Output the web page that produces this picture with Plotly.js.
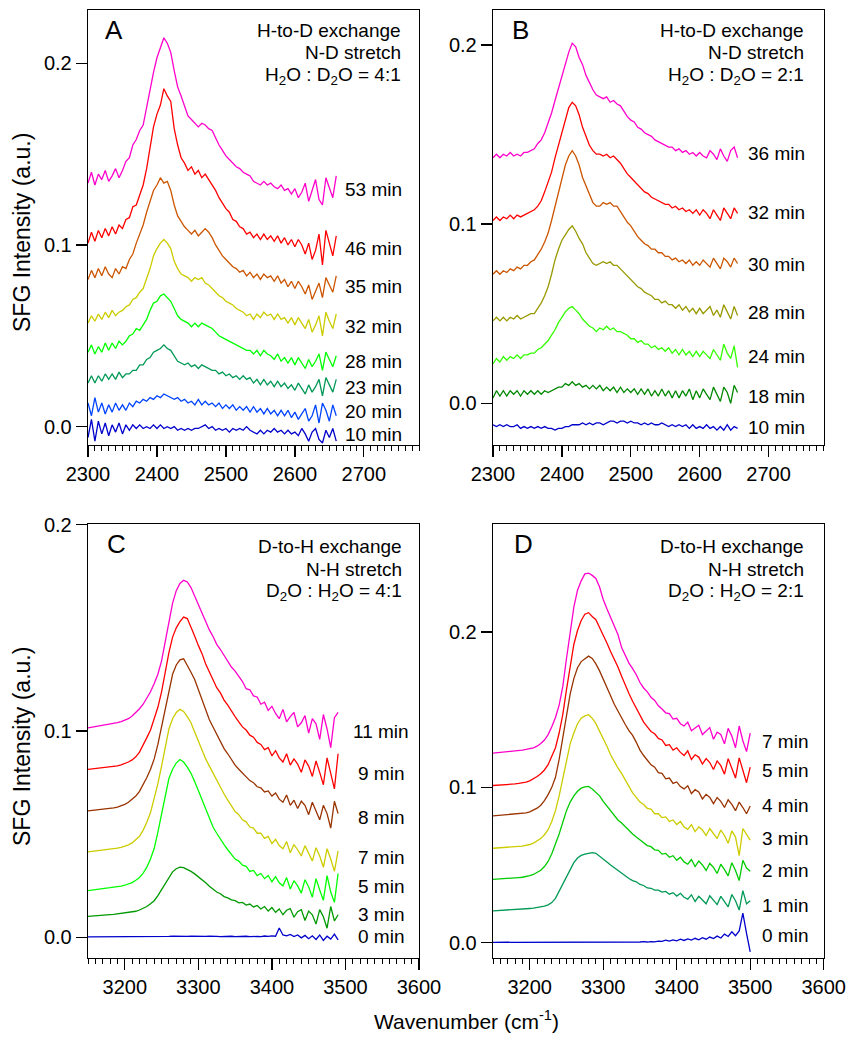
<!DOCTYPE html>
<html><head><meta charset="utf-8">
<script src="https://cdn.plot.ly/plotly-3.0.1.min.js"></script>
<style>html,body{margin:0;padding:0;background:#fff}#chart{width:855px;height:1050px}</style>
</head><body><div id="chart"></div>
<script>
// ---------- wavenumber grids (cm-1) ----------
const wnA = [2300,2305,2310,2315,2320,2325,2330,2335,2340,2345,2350,2355,2360,2365,2370,2375,2380,2385,2390,2395,2400,2405,2410,2415,2420,2425,2430,2435,2440,2445,2450,2455,2460,2465,2470,2475,2480,2485,2490,2495,2500,2505,2510,2515,2520,2525,2530,2535,2540,2545,2550,2555,2560,2565,2570,2575,2580,2585,2590,2595,2600,2605,2610,2615,2620,2625,2630,2635,2640,2645,2650,2655,2660];
const wnB = [2300,2305,2310,2315,2320,2325,2330,2335,2340,2345,2350,2355,2360,2365,2370,2375,2380,2385,2390,2395,2400,2405,2410,2415,2420,2425,2430,2435,2440,2445,2450,2455,2460,2465,2470,2475,2480,2485,2490,2495,2500,2505,2510,2515,2520,2525,2530,2535,2540,2545,2550,2555,2560,2565,2570,2575,2580,2585,2590,2595,2600,2605,2610,2615,2620,2625,2630,2635,2640,2645,2650,2655];
const wnC = [3150,3155,3160,3165,3170,3175,3180,3185,3190,3195,3200,3205,3210,3215,3220,3225,3230,3235,3240,3245,3250,3255,3260,3265,3270,3275,3280,3285,3290,3295,3300,3305,3310,3315,3320,3325,3330,3335,3340,3345,3350,3355,3360,3365,3370,3375,3380,3385,3390,3395,3400,3405,3410,3415,3420,3425,3430,3435,3440,3445,3450,3455,3460,3465,3470,3475,3480,3485,3490];
const wnD = [3150,3155,3160,3165,3170,3175,3180,3185,3190,3195,3200,3205,3210,3215,3220,3225,3230,3235,3240,3245,3250,3255,3260,3265,3270,3275,3280,3285,3290,3295,3300,3305,3310,3315,3320,3325,3330,3335,3340,3345,3350,3355,3360,3365,3370,3375,3380,3385,3390,3395,3400,3405,3410,3415,3420,3425,3430,3435,3440,3445,3450,3455,3460,3465,3470,3475,3480,3485,3490,3495,3500];

// ---------- Panel A: H-to-D, N-D stretch, H2O:D2O = 4:1 ----------
const a53 = [0.134,0.140,0.133,0.139,0.136,0.141,0.135,0.138,0.142,0.137,0.141,0.146,0.148,0.155,0.158,0.163,0.166,0.176,0.184,0.195,0.203,0.208,0.214,0.211,0.206,0.196,0.187,0.182,0.176,0.171,0.169,0.167,0.165,0.167,0.166,0.164,0.163,0.159,0.155,0.152,0.149,0.147,0.145,0.143,0.142,0.140,0.139,0.138,0.135,0.134,0.133,0.135,0.133,0.134,0.132,0.131,0.133,0.130,0.131,0.128,0.131,0.126,0.129,0.134,0.124,0.130,0.136,0.125,0.122,0.137,0.131,0.126,0.138];
const a46 = [0.101,0.107,0.102,0.108,0.104,0.109,0.105,0.110,0.106,0.111,0.109,0.114,0.115,0.121,0.122,0.128,0.133,0.142,0.153,0.165,0.172,0.177,0.186,0.182,0.179,0.164,0.155,0.148,0.145,0.141,0.143,0.139,0.141,0.137,0.139,0.136,0.133,0.130,0.126,0.123,0.120,0.118,0.114,0.113,0.110,0.109,0.106,0.107,0.104,0.106,0.103,0.106,0.103,0.105,0.102,0.105,0.101,0.104,0.100,0.103,0.099,0.103,0.100,0.095,0.101,0.092,0.097,0.106,0.089,0.108,0.101,0.094,0.105];
const a35 = [0.081,0.086,0.082,0.087,0.083,0.088,0.084,0.082,0.087,0.084,0.088,0.087,0.092,0.095,0.101,0.106,0.111,0.118,0.124,0.130,0.133,0.137,0.134,0.135,0.130,0.122,0.116,0.113,0.110,0.108,0.106,0.108,0.105,0.107,0.109,0.107,0.104,0.100,0.097,0.094,0.092,0.090,0.088,0.087,0.085,0.086,0.083,0.085,0.082,0.084,0.081,0.084,0.082,0.083,0.080,0.083,0.079,0.081,0.077,0.080,0.076,0.080,0.077,0.073,0.078,0.070,0.075,0.079,0.071,0.082,0.078,0.074,0.083];
const a32 = [0.057,0.061,0.058,0.062,0.059,0.063,0.060,0.064,0.061,0.063,0.064,0.066,0.067,0.070,0.071,0.074,0.076,0.081,0.087,0.094,0.098,0.101,0.103,0.101,0.098,0.091,0.087,0.084,0.083,0.082,0.080,0.082,0.081,0.082,0.079,0.078,0.076,0.074,0.072,0.071,0.069,0.068,0.067,0.065,0.064,0.063,0.061,0.062,0.059,0.062,0.060,0.063,0.061,0.062,0.059,0.062,0.059,0.060,0.057,0.060,0.056,0.060,0.057,0.054,0.059,0.052,0.056,0.061,0.050,0.063,0.058,0.054,0.062];
const a28 = [0.041,0.045,0.040,0.044,0.041,0.046,0.042,0.046,0.043,0.047,0.045,0.047,0.050,0.051,0.054,0.053,0.056,0.059,0.064,0.068,0.069,0.072,0.073,0.071,0.069,0.065,0.061,0.059,0.058,0.057,0.055,0.057,0.055,0.057,0.056,0.055,0.054,0.052,0.050,0.049,0.048,0.047,0.046,0.045,0.044,0.043,0.042,0.042,0.040,0.042,0.039,0.042,0.040,0.039,0.037,0.040,0.036,0.038,0.035,0.038,0.034,0.038,0.035,0.032,0.037,0.033,0.036,0.040,0.031,0.041,0.037,0.033,0.039];
const a23 = [0.024,0.028,0.024,0.028,0.025,0.029,0.026,0.029,0.026,0.030,0.027,0.029,0.029,0.031,0.031,0.034,0.034,0.037,0.038,0.041,0.042,0.043,0.045,0.043,0.042,0.039,0.036,0.035,0.034,0.035,0.033,0.034,0.032,0.034,0.033,0.032,0.031,0.031,0.029,0.030,0.028,0.029,0.027,0.028,0.026,0.028,0.026,0.027,0.024,0.026,0.023,0.026,0.023,0.025,0.022,0.025,0.022,0.024,0.021,0.023,0.020,0.024,0.021,0.018,0.023,0.019,0.022,0.026,0.017,0.027,0.023,0.019,0.026];
const a20 = [0.013,0.006,0.016,0.008,0.013,0.007,0.012,0.008,0.013,0.009,0.012,0.009,0.013,0.011,0.014,0.013,0.015,0.014,0.016,0.015,0.017,0.016,0.018,0.017,0.016,0.015,0.016,0.014,0.015,0.013,0.014,0.012,0.015,0.012,0.014,0.012,0.013,0.011,0.013,0.010,0.012,0.010,0.012,0.009,0.011,0.009,0.011,0.008,0.011,0.008,0.010,0.007,0.010,0.007,0.009,0.006,0.009,0.006,0.009,0.005,0.008,0.004,0.007,0.010,0.003,0.006,0.012,0.002,0.013,0.009,0.003,0.012,0.006];
const a10 = [-0.006,0.004,-0.008,0.003,-0.004,0.002,-0.005,0.001,-0.003,0.002,-0.004,0.001,-0.002,0.001,-0.001,0.001,-0.001,0.000,-0.001,0.001,-0.001,0.001,-0.001,0.000,-0.001,0.000,-0.002,-0.001,-0.002,-0.001,-0.002,-0.001,-0.001,0.000,0.001,-0.001,0.000,-0.002,-0.001,-0.002,-0.001,-0.003,-0.001,-0.002,-0.001,-0.002,0.000,-0.002,-0.003,-0.004,-0.002,-0.004,-0.002,-0.003,-0.001,-0.003,-0.002,-0.004,-0.002,-0.004,-0.003,-0.005,-0.001,-0.004,-0.008,-0.003,-0.001,-0.007,-0.009,-0.002,-0.006,-0.001,-0.008];
const labelsA = ['53 min','46 min','35 min','32 min','28 min','23 min','20 min','10 min'];

// ---------- Panel B: H-to-D, N-D stretch, H2O:D2O = 2:1 ----------
const b36 = [0.137,0.139,0.137,0.139,0.138,0.140,0.138,0.139,0.138,0.140,0.140,0.141,0.142,0.145,0.147,0.151,0.156,0.162,0.169,0.176,0.182,0.189,0.196,0.201,0.199,0.193,0.189,0.183,0.179,0.175,0.172,0.171,0.170,0.171,0.168,0.169,0.167,0.166,0.163,0.160,0.158,0.157,0.154,0.153,0.151,0.150,0.149,0.147,0.146,0.145,0.144,0.143,0.143,0.141,0.142,0.140,0.141,0.139,0.140,0.138,0.140,0.138,0.137,0.141,0.139,0.136,0.142,0.138,0.135,0.141,0.143,0.137];
const b32 = [0.102,0.104,0.102,0.104,0.103,0.105,0.103,0.105,0.104,0.105,0.106,0.107,0.108,0.110,0.113,0.118,0.123,0.129,0.137,0.144,0.151,0.158,0.165,0.168,0.166,0.161,0.154,0.149,0.144,0.141,0.139,0.139,0.138,0.139,0.137,0.138,0.136,0.134,0.131,0.128,0.126,0.124,0.122,0.120,0.118,0.117,0.115,0.114,0.113,0.112,0.111,0.111,0.109,0.110,0.108,0.109,0.107,0.108,0.106,0.108,0.105,0.108,0.106,0.103,0.108,0.105,0.102,0.109,0.106,0.103,0.109,0.106];
const b30 = [0.072,0.074,0.072,0.074,0.073,0.075,0.074,0.076,0.075,0.077,0.077,0.079,0.080,0.083,0.086,0.090,0.095,0.102,0.110,0.118,0.126,0.133,0.138,0.141,0.138,0.133,0.126,0.121,0.116,0.112,0.110,0.110,0.112,0.111,0.112,0.110,0.110,0.107,0.104,0.101,0.099,0.096,0.093,0.091,0.089,0.088,0.086,0.086,0.084,0.084,0.082,0.082,0.080,0.081,0.079,0.080,0.078,0.080,0.077,0.079,0.077,0.080,0.078,0.076,0.081,0.078,0.075,0.081,0.079,0.076,0.081,0.078];
const b28 = [0.046,0.048,0.046,0.048,0.046,0.048,0.047,0.049,0.047,0.048,0.049,0.050,0.050,0.053,0.056,0.060,0.065,0.072,0.080,0.086,0.091,0.094,0.097,0.099,0.096,0.092,0.089,0.084,0.081,0.078,0.077,0.078,0.079,0.078,0.079,0.077,0.077,0.075,0.073,0.071,0.069,0.067,0.065,0.064,0.062,0.061,0.060,0.058,0.058,0.056,0.057,0.055,0.055,0.053,0.055,0.052,0.054,0.051,0.053,0.050,0.053,0.050,0.052,0.054,0.049,0.052,0.048,0.055,0.051,0.047,0.054,0.049];
const b24 = [0.022,0.025,0.023,0.026,0.024,0.026,0.025,0.027,0.025,0.027,0.027,0.028,0.028,0.030,0.031,0.033,0.035,0.038,0.041,0.045,0.048,0.051,0.053,0.054,0.052,0.050,0.047,0.045,0.043,0.042,0.040,0.042,0.041,0.043,0.041,0.042,0.040,0.040,0.039,0.038,0.036,0.036,0.034,0.035,0.033,0.033,0.031,0.032,0.030,0.031,0.029,0.031,0.028,0.030,0.027,0.030,0.027,0.029,0.026,0.029,0.026,0.029,0.027,0.025,0.030,0.027,0.024,0.033,0.028,0.025,0.032,0.020];
const b18 = [0.003,0.007,0.004,0.007,0.004,0.007,0.005,0.007,0.004,0.007,0.005,0.007,0.005,0.007,0.005,0.007,0.006,0.007,0.008,0.009,0.009,0.011,0.010,0.012,0.010,0.011,0.009,0.010,0.008,0.010,0.008,0.010,0.007,0.009,0.007,0.009,0.006,0.009,0.006,0.008,0.006,0.008,0.005,0.008,0.005,0.008,0.004,0.007,0.004,0.008,0.004,0.007,0.003,0.007,0.003,0.007,0.004,0.008,0.002,0.007,0.003,0.008,0.005,0.002,0.009,0.005,0.001,0.009,0.006,0.000,0.010,0.006];
const b10 = [-0.012,-0.013,-0.012,-0.013,-0.012,-0.013,-0.013,-0.012,-0.014,-0.013,-0.014,-0.013,-0.014,-0.013,-0.014,-0.013,-0.014,-0.014,-0.015,-0.014,-0.014,-0.013,-0.013,-0.012,-0.012,-0.012,-0.011,-0.012,-0.011,-0.012,-0.011,-0.011,-0.012,-0.011,-0.010,-0.010,-0.011,-0.010,-0.010,-0.011,-0.010,-0.011,-0.011,-0.012,-0.011,-0.012,-0.011,-0.012,-0.012,-0.011,-0.012,-0.013,-0.012,-0.013,-0.012,-0.013,-0.012,-0.014,-0.012,-0.014,-0.013,-0.014,-0.012,-0.014,-0.013,-0.015,-0.013,-0.015,-0.012,-0.015,-0.013,-0.014];
const labelsB = ['36 min','32 min','30 min','28 min','24 min','18 min','10 min'];

// ---------- Panel C: D-to-H, N-H stretch, D2O:H2O = 4:1 ----------
const c11 = [0.1015,0.1018,0.1020,0.1023,0.1027,0.1030,0.1034,0.1037,0.1041,0.1046,0.1053,0.1060,0.1073,0.1090,0.1108,0.1130,0.1160,0.1190,0.1230,0.1275,0.1340,0.1430,0.1530,0.1620,0.1680,0.1715,0.1730,0.1722,0.1695,0.1655,0.1610,0.1568,0.1530,0.1490,0.1458,0.1420,0.1395,0.1365,0.1340,0.1310,0.1290,0.1262,0.1240,0.1205,0.1200,0.1170,0.1165,0.1130,0.1140,0.1100,0.1120,0.1085,0.1060,0.1105,0.1045,0.1070,0.1090,0.1020,0.1040,0.1075,0.0990,0.1060,0.1035,0.0960,0.1080,0.1010,0.0920,0.1065,0.1090];
const c9 = [0.0814,0.0816,0.0818,0.0820,0.0822,0.0824,0.0826,0.0828,0.0831,0.0836,0.0842,0.0850,0.0860,0.0875,0.0898,0.0930,0.0968,0.1005,0.1055,0.1115,0.1190,0.1285,0.1380,0.1455,0.1500,0.1530,0.1552,0.1545,0.1505,0.1460,0.1415,0.1375,0.1325,0.1285,0.1245,0.1210,0.1185,0.1150,0.1125,0.1095,0.1070,0.1045,0.1020,0.1005,0.0980,0.0970,0.0945,0.0935,0.0910,0.0920,0.0880,0.0905,0.0870,0.0850,0.0890,0.0835,0.0865,0.0840,0.0800,0.0860,0.0830,0.0780,0.0855,0.0800,0.0740,0.0870,0.0790,0.0720,0.0890];
const c8 = [0.0613,0.0615,0.0616,0.0618,0.0620,0.0622,0.0625,0.0628,0.0632,0.0638,0.0645,0.0655,0.0668,0.0685,0.0708,0.0740,0.0775,0.0815,0.0865,0.0935,0.1020,0.1110,0.1200,0.1275,0.1320,0.1345,0.1350,0.1320,0.1285,0.1250,0.1200,0.1145,0.1100,0.1055,0.1020,0.0985,0.0950,0.0915,0.0890,0.0860,0.0835,0.0815,0.0795,0.0775,0.0760,0.0750,0.0730,0.0725,0.0705,0.0710,0.0685,0.0700,0.0670,0.0655,0.0690,0.0640,0.0665,0.0625,0.0660,0.0640,0.0595,0.0655,0.0610,0.0570,0.0640,0.0600,0.0530,0.0660,0.0600];
const c7 = [0.0415,0.0417,0.0419,0.0421,0.0423,0.0425,0.0428,0.0430,0.0433,0.0437,0.0442,0.0449,0.0458,0.0472,0.0490,0.0520,0.0558,0.0605,0.0670,0.0745,0.0830,0.0930,0.1010,0.1060,0.1090,0.1105,0.1095,0.1070,0.1040,0.0995,0.0950,0.0905,0.0865,0.0830,0.0795,0.0760,0.0725,0.0695,0.0665,0.0640,0.0610,0.0595,0.0570,0.0560,0.0535,0.0530,0.0505,0.0505,0.0480,0.0490,0.0455,0.0475,0.0445,0.0430,0.0465,0.0410,0.0450,0.0425,0.0395,0.0445,0.0410,0.0370,0.0435,0.0395,0.0340,0.0430,0.0380,0.0320,0.0420];
const c5 = [0.0227,0.0230,0.0232,0.0235,0.0237,0.0239,0.0241,0.0243,0.0245,0.0249,0.0253,0.0259,0.0266,0.0277,0.0290,0.0312,0.0341,0.0380,0.0432,0.0510,0.0600,0.0695,0.0770,0.0815,0.0845,0.0862,0.0850,0.0825,0.0795,0.0755,0.0710,0.0665,0.0620,0.0575,0.0535,0.0505,0.0475,0.0450,0.0425,0.0405,0.0380,0.0370,0.0350,0.0345,0.0320,0.0325,0.0300,0.0310,0.0285,0.0300,0.0270,0.0295,0.0265,0.0250,0.0290,0.0235,0.0275,0.0250,0.0215,0.0280,0.0245,0.0195,0.0285,0.0230,0.0180,0.0300,0.0220,0.0170,0.0310];
const c3 = [0.0102,0.0104,0.0106,0.0107,0.0109,0.0110,0.0111,0.0112,0.0114,0.0116,0.0118,0.0120,0.0123,0.0127,0.0133,0.0140,0.0150,0.0163,0.0178,0.0203,0.0232,0.0265,0.0295,0.0318,0.0333,0.0341,0.0338,0.0330,0.0320,0.0308,0.0295,0.0282,0.0265,0.0248,0.0235,0.0220,0.0212,0.0198,0.0192,0.0182,0.0178,0.0168,0.0170,0.0157,0.0162,0.0148,0.0155,0.0138,0.0150,0.0128,0.0145,0.0122,0.0138,0.0110,0.0132,0.0140,0.0098,0.0125,0.0135,0.0082,0.0128,0.0110,0.0065,0.0135,0.0100,0.0045,0.0150,0.0080,0.0110];
const c0 = [0.0003,0.0003,0.0002,0.0003,0.0003,0.0002,0.0003,0.0003,0.0002,0.0003,0.0003,0.0003,0.0002,0.0003,0.0003,0.0004,0.0003,0.0004,0.0004,0.0005,0.0004,0.0005,0.0005,0.0006,0.0005,0.0006,0.0006,0.0005,0.0006,0.0005,0.0006,0.0005,0.0005,0.0006,0.0004,0.0005,0.0004,0.0005,0.0004,0.0006,0.0004,0.0005,0.0004,0.0006,0.0004,0.0006,0.0005,0.0004,0.0007,0.0005,0.0008,0.0006,0.0046,0.0012,0.0008,0.0015,0.0004,0.0012,-0.0002,0.0010,-0.0006,0.0008,-0.0010,0.0012,-0.0014,0.0006,-0.0008,0.0016,-0.0012];
const labelsC = ['11 min','9 min','8 min','7 min','5 min','3 min','0 min'];

// ---------- Panel D: D-to-H, N-H stretch, D2O:H2O = 2:1 ----------
const d7 = [0.1221,0.1223,0.1224,0.1226,0.1228,0.1230,0.1233,0.1236,0.1240,0.1244,0.1249,0.1255,0.1265,0.1282,0.1305,0.1340,0.1390,0.1450,0.1530,0.1650,0.1830,0.2010,0.2160,0.2270,0.2330,0.2375,0.2380,0.2365,0.2345,0.2290,0.2210,0.2150,0.2095,0.2050,0.1985,0.1900,0.1845,0.1800,0.1765,0.1725,0.1675,0.1640,0.1615,0.1580,0.1560,0.1525,0.1505,0.1480,0.1475,0.1440,0.1445,0.1410,0.1395,0.1420,0.1365,0.1385,0.1400,0.1340,0.1360,0.1385,0.1310,0.1355,0.1340,0.1280,0.1380,0.1330,0.1255,0.1395,0.1300,0.1230,0.1350];
const d5 = [0.1012,0.1013,0.1014,0.1015,0.1017,0.1019,0.1022,0.1025,0.1028,0.1034,0.1042,0.1054,0.1070,0.1088,0.1112,0.1146,0.1195,0.1255,0.1350,0.1470,0.1630,0.1790,0.1920,0.2010,0.2075,0.2115,0.2125,0.2100,0.2080,0.2030,0.1985,0.1930,0.1875,0.1830,0.1775,0.1715,0.1655,0.1605,0.1555,0.1510,0.1460,0.1420,0.1390,0.1360,0.1345,0.1315,0.1305,0.1270,0.1275,0.1240,0.1255,0.1225,0.1205,0.1235,0.1180,0.1210,0.1195,0.1150,0.1185,0.1160,0.1115,0.1170,0.1140,0.1085,0.1185,0.1120,0.1060,0.1190,0.1110,0.1030,0.1130];
const d4 = [0.0816,0.0818,0.0819,0.0821,0.0823,0.0825,0.0827,0.0829,0.0832,0.0836,0.0842,0.0852,0.0866,0.0885,0.0915,0.0953,0.1000,0.1065,0.1180,0.1320,0.1470,0.1600,0.1700,0.1770,0.1810,0.1830,0.1845,0.1830,0.1795,0.1750,0.1700,0.1650,0.1590,0.1535,0.1490,0.1440,0.1405,0.1365,0.1335,0.1290,0.1240,0.1205,0.1175,0.1145,0.1130,0.1095,0.1090,0.1055,0.1060,0.1025,0.1035,0.1005,0.0990,0.1010,0.0960,0.0985,0.0970,0.0925,0.0955,0.0935,0.0895,0.0935,0.0910,0.0870,0.0920,0.0890,0.0850,0.0905,0.0870,0.0830,0.0880];
const d3 = [0.0608,0.0609,0.0611,0.0612,0.0614,0.0616,0.0618,0.0620,0.0622,0.0626,0.0632,0.0641,0.0655,0.0670,0.0695,0.0727,0.0780,0.0850,0.0945,0.1060,0.1180,0.1280,0.1350,0.1410,0.1445,0.1460,0.1468,0.1445,0.1410,0.1365,0.1315,0.1265,0.1210,0.1165,0.1125,0.1090,0.1045,0.1000,0.0965,0.0935,0.0905,0.0890,0.0865,0.0860,0.0830,0.0830,0.0805,0.0810,0.0780,0.0790,0.0760,0.0780,0.0745,0.0730,0.0760,0.0715,0.0745,0.0725,0.0690,0.0735,0.0705,0.0670,0.0725,0.0690,0.0640,0.0720,0.0680,0.0560,0.0735,0.0700,0.0660];
const d2 = [0.0408,0.0409,0.0411,0.0412,0.0413,0.0415,0.0417,0.0419,0.0421,0.0425,0.0431,0.0439,0.0451,0.0466,0.0490,0.0523,0.0572,0.0630,0.0700,0.0775,0.0850,0.0905,0.0945,0.0975,0.0995,0.1003,0.1006,0.0990,0.0970,0.0945,0.0910,0.0880,0.0845,0.0815,0.0790,0.0770,0.0745,0.0725,0.0700,0.0680,0.0660,0.0645,0.0625,0.0618,0.0598,0.0595,0.0570,0.0575,0.0550,0.0560,0.0530,0.0550,0.0520,0.0505,0.0535,0.0490,0.0525,0.0500,0.0465,0.0510,0.0485,0.0445,0.0505,0.0470,0.0430,0.0515,0.0465,0.0400,0.0530,0.0480,0.0460];
const d1 = [0.0205,0.0206,0.0207,0.0208,0.0210,0.0211,0.0213,0.0214,0.0216,0.0218,0.0220,0.0222,0.0225,0.0229,0.0235,0.0243,0.0258,0.0285,0.0330,0.0380,0.0430,0.0475,0.0515,0.0545,0.0562,0.0570,0.0576,0.0580,0.0575,0.0558,0.0540,0.0520,0.0500,0.0482,0.0465,0.0448,0.0430,0.0413,0.0400,0.0392,0.0375,0.0368,0.0352,0.0350,0.0338,0.0338,0.0325,0.0330,0.0312,0.0322,0.0300,0.0318,0.0292,0.0280,0.0308,0.0265,0.0298,0.0275,0.0250,0.0302,0.0270,0.0245,0.0298,0.0265,0.0230,0.0310,0.0270,0.0210,0.0335,0.0250,0.0270];
const d0 = [0.0002,0.0003,0.0002,0.0002,0.0003,0.0002,0.0002,0.0003,0.0002,0.0002,0.0002,0.0003,0.0002,0.0002,0.0001,0.0002,0.0001,0.0002,0.0001,0.0002,0.0001,0.0002,0.0002,0.0001,0.0002,0.0001,0.0002,0.0003,0.0002,0.0003,0.0002,0.0004,0.0002,0.0004,0.0003,0.0004,0.0003,0.0005,0.0003,0.0005,0.0004,0.0006,0.0004,0.0007,0.0005,0.0010,0.0008,0.0016,0.0010,0.0018,0.0012,0.0022,0.0014,0.0024,0.0016,0.0028,0.0018,0.0032,0.0022,0.0036,0.0026,0.0042,0.0030,0.0055,0.0040,0.0070,0.0045,0.0075,0.0190,0.0060,-0.0060];
const labelsD = ['7 min','5 min','4 min','3 min','2 min','1 min','0 min'];

// ---------- styles (kept apart from the data) ----------
const colorsA = ['#ff00cc','#ff0000','#cc5500','#cccc00','#00ff00','#009955','#0044ff','#0000cc'];
const colorsB = ['#ff00cc','#ff0000','#cc5500','#999900','#33ff00','#008800','#0000cc'];
const colorsC = ['#ff00cc','#ff0000','#993300','#cccc00','#00ff00','#009900','#0000cc'];
const colorsD = ['#ff00cc','#ff0000','#993300','#cccc00','#00cc00','#009955','#0000cc'];

const W = 855, H = 1050;
const FONT = 'Liberation Sans, Arial, Helvetica, sans-serif';
const px = v => v / W;
const py = v => 1 - v / H;

const panels = [
  {x: wnA, ys: [a53,a46,a35,a32,a28,a23,a20,a10], labels: labelsA, colors: colorsA, xa: 'x',  ya: 'y',
   labelX: 373, labelY: [189.3,248.3,286.7,326,361.7,387.7,411.7,434]},
  {x: wnB, ys: [b36,b32,b30,b28,b24,b18,b10], labels: labelsB, colors: colorsB, xa: 'x2', ya: 'y2',
   labelX: 776, labelY: [153.3,212.3,264,312.7,356,396.7,427.3]},
  {x: wnC, ys: [c11,c9,c8,c7,c5,c3,c0], labels: labelsC, colors: colorsC, xa: 'x3', ya: 'y3',
   labelX: 381, labelY: [731.7,773.3,817.3,857.3,886.7,914.3,936.7]},
  {x: wnD, ys: [d7,d5,d4,d3,d2,d1,d0], labels: labelsD, colors: colorsD, xa: 'x4', ya: 'y4',
   labelX: 785, labelY: [741.7,770.7,805,838.3,870.7,905,935.7]}
];

const traces = [];
const annotations = [];
panels.forEach(p => {
  for (let i = p.ys.length - 1; i >= 0; i--) {
    traces.push({x: p.x, y: p.ys[i], type: 'scatter', mode: 'lines', xaxis: p.xa, yaxis: p.ya,
      line: {color: p.colors[i], width: 1.3}, showlegend: false, hoverinfo: 'skip'});
  }
  p.labels.forEach((t, i) => {
    annotations.push({text: t, xref: 'paper', yref: 'paper', x: px(p.labelX), y: py(p.labelY[i]),
      xanchor: 'center', yanchor: 'middle', showarrow: false, font: {family: FONT, size: 19, color: '#000'}});
  });
});

// panel letters
[['A',103,30],['B',510,30],['C',105,544],['D',512,544]].forEach(([t,x,y]) => {
  annotations.push({text: t, xref: 'paper', yref: 'paper', x: px(x), y: py(y), xanchor: 'left', yanchor: 'middle',
    showarrow: false, font: {family: FONT, size: 26, color: '#000'}});
});
// condition text blocks
const condText = [
  {right: 403, top: [30, 53, 76], lines: ['H-to-D exchange','N-D stretch','H<sub>2</sub>O : D<sub>2</sub>O = 4:1']},
  {right: 806, top: [30, 53, 76], lines: ['H-to-D exchange','N-D stretch','H<sub>2</sub>O : D<sub>2</sub>O = 2:1']},
  {right: 404, top: [546, 569, 592], lines: ['D-to-H exchange','N-H stretch','D<sub>2</sub>O : H<sub>2</sub>O = 4:1']},
  {right: 806, top: [546, 569, 592], lines: ['D-to-H exchange','N-H stretch','D<sub>2</sub>O : H<sub>2</sub>O = 2:1']}
];
condText.forEach(c => c.lines.forEach((t, i) => {
  annotations.push({text: t, xref: 'paper', yref: 'paper', x: px(c.right), y: py(c.top[i]), xanchor: 'right', yanchor: 'middle',
    showarrow: false, font: {family: FONT, size: 19, color: '#000'}});
}));
// axis titles
[233, 747].forEach(y => {
  annotations.push({text: 'SFG Intensity (a.u.)', xref: 'paper', yref: 'paper', x: px(22), y: py(y), textangle: -90,
    xanchor: 'center', yanchor: 'middle', showarrow: false, font: {family: FONT, size: 23, color: '#000'}});
});
annotations.push({text: 'Wavenumber (cm<sup>-1</sup>)', xref: 'paper', yref: 'paper', x: px(467), y: py(1020),
  xanchor: 'center', yanchor: 'middle', showarrow: false, font: {family: FONT, size: 21, color: '#000'}});

function xAxis(domain, range, tick0, anchor) {
  return {domain, range, anchor, tick0, dtick: 100, ticks: 'outside', ticklen: 11, tickwidth: 1.3, tickcolor: '#000',
    showline: true, mirror: true, linecolor: '#000', linewidth: 1.3, showgrid: false, zeroline: false,
    tickfont: {family: FONT, size: 20, color: '#000'},
    minor: {dtick: 10, ticks: 'outside', ticklen: 5, tickwidth: 1, tickcolor: '#000', showgrid: false}};
}
function yAxis(domain, range, anchor) {
  return {domain, range, anchor, tick0: 0, dtick: 0.1, tickformat: '.1f', ticks: 'outside', ticklen: 11, tickwidth: 1.3,
    tickcolor: '#000', showline: true, mirror: true, linecolor: '#000', linewidth: 1.3, showgrid: false, zeroline: false,
    tickfont: {family: FONT, size: 20, color: '#000'}};
}
const dxL = [px(88), px(419)], dxR = [px(493), px(823.7)];
const dyT = [py(445), py(10)], dyB = [py(957.7), py(524)];

const layout = {
  width: W, height: H, margin: {l: 0, r: 0, t: 0, b: 0}, paper_bgcolor: '#fff', plot_bgcolor: '#fff',
  font: {family: FONT, color: '#000'}, showlegend: false,
  xaxis:  xAxis(dxL, [2300, 2780], 2300, 'y'),
  yaxis:  yAxis(dyT, [-0.0101, 0.2293], 'x'),
  xaxis2: xAxis(dxR, [2300, 2780], 2300, 'y2'),
  yaxis2: yAxis(dyT, [-0.0233, 0.2195], 'x2'),
  xaxis3: xAxis(dxL, [3150, 3600], 3200, 'y3'),
  yaxis3: yAxis(dyB, [-0.0098, 0.2003], 'x3'),
  xaxis4: xAxis(dxR, [3150, 3600], 3200, 'y4'),
  yaxis4: yAxis(dyB, [-0.0097, 0.2696], 'x4'),
  annotations
};
Plotly.newPlot('chart', traces, layout, {staticPlot: true, displayModeBar: false});
</script></body></html>
